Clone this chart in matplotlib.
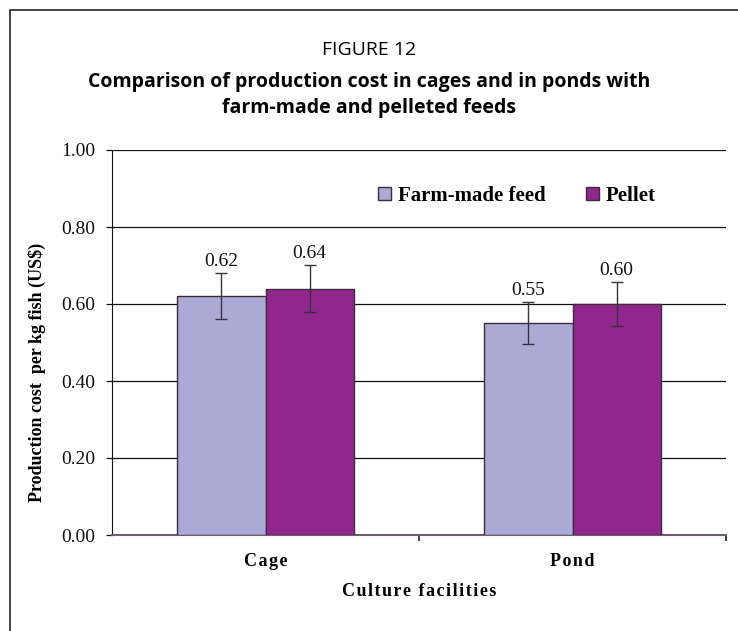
import matplotlib
matplotlib.use("Agg")
import matplotlib.pyplot as plt
import matplotlib.transforms as mtransforms
import numpy as np
from matplotlib.patches import Rectangle

categories = ["Cage", "Pond"]
farm_made = [0.62, 0.55]
pellet = [0.64, 0.60]
farm_err = [0.06, 0.055]
pellet_err = [0.062, 0.058]
series_names = ["Farm-made feed", "Pellet"]

serif = "Liberation Serif"
sans = "Open Sans"

def spaced(s):
    # the original uses a little letter spacing on the axis texts
    return "\u200a".join(s)

fig = plt.figure(figsize=(7.38, 6.31), dpi=100)
ax = fig.add_axes([112/738, 1 - 535/631, 614/738, 385/631])

x = np.arange(len(categories))
w = 0.288
c_farm = "#aaaad4"
c_pel = "#91268d"
edge = "#3c2c3c"

b1 = ax.bar(x - w/2, farm_made, w, color=c_farm, edgecolor=edge, linewidth=1.0, zorder=3)
b2 = ax.bar(x + w/2, pellet, w, color=c_pel, edgecolor=edge, linewidth=1.0, zorder=3)
ax.errorbar(x - w/2, farm_made, yerr=farm_err, fmt="none", ecolor="#3a3040",
            elinewidth=1.0, capsize=4.3, capthick=1.0, zorder=4)
ax.errorbar(x + w/2, pellet, yerr=pellet_err, fmt="none", ecolor="#3a3040",
            elinewidth=1.0, capsize=4.3, capthick=1.0, zorder=4)

# value labels on top of the error bars
for xs, vals, errs in [(x - w/2, farm_made, farm_err), (x + w/2, pellet, pellet_err)]:
    for xi, v, e in zip(xs, vals, errs):
        ax.text(xi, v + e + 0.008, "%.2f" % v, ha="center", va="bottom",
                fontsize=14, family=serif, color="#111111")

ax.set_ylim(0, 1.0)
ax.set_xlim(-0.5, 1.5)
ax.set_yticks(np.arange(0, 1.01, 0.2))
ax.set_yticklabels(["%.2f" % t for t in np.arange(0, 1.01, 0.2)], family=serif, fontsize=14)
ax.yaxis.grid(True, color="#111111", linewidth=0.9, zorder=0)
ax.set_axisbelow(True)
ax.tick_params(axis="y", direction="out", length=4, width=0.9, pad=8, colors="#111111")

ax.set_xticks(x)
ax.set_xticklabels([spaced(c) for c in categories], family=serif, fontsize=13, fontweight="bold")
ax.set_xticks([0.5, 1.5], minor=True)
ax.tick_params(axis="x", which="major", length=0, pad=13)
ax.tick_params(axis="x", which="minor", direction="out", length=4, width=1.2, color="#222222")

for s in ["top", "right"]:
    ax.spines[s].set_visible(False)
ax.spines["left"].set_color("#111111")
ax.spines["bottom"].set_color("#6a6070")
ax.spines["bottom"].set_linewidth(1.5)

trans = mtransforms.blended_transform_factory(ax.transData, fig.transFigure)
ax.text(0.5, 1 - 591/631, spaced("Culture facilities"), transform=trans,
        ha="center", va="center", family=serif, fontsize=13, fontweight="bold")
fig.text(37/738, 1 - 372/631, "Production cost  per kg fish (US$)", rotation=90,
         ha="center", va="center", family=serif, fontsize=13, fontweight="bold")

leg = ax.legend([b1, b2], series_names, loc="center left", bbox_to_anchor=(368/738, 1 - 196/631),
                bbox_transform=fig.transFigure, ncol=2, frameon=False, borderpad=0,
                prop={"family": serif, "weight": "bold", "size": 15},
                handlelength=0.62, handleheight=0.62, handletextpad=0.34, columnspacing=1.9)

fig.text(0.5, 1 - 50/631, "FIGURE 12", ha="center", va="center", family=sans, fontsize=14)
fig.text(0.5, 1 - 95/631, "Comparison of production cost in cages and in ponds with\nfarm-made and pelleted feeds",
         ha="center", va="center", family=sans, fontsize=14, fontweight="bold", linespacing=1.45)

# outer frame (only top and left edges visible in the crop)
fig.patches.append(Rectangle((10/738, -0.05), 1.0, 1 - 10/631 + 0.05, transform=fig.transFigure,
                             fill=False, edgecolor="#222222", linewidth=1.2))

fig.savefig("out.png", dpi=100)
